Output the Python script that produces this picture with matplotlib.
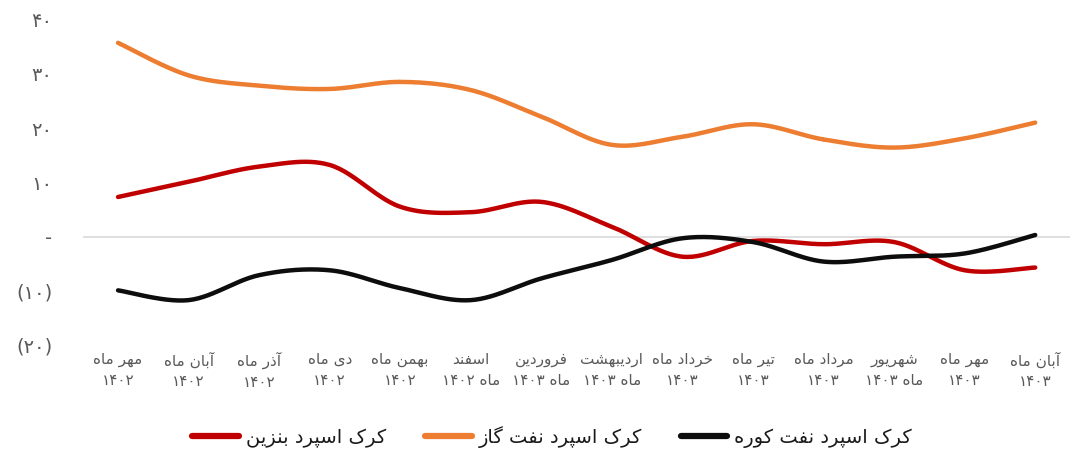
import numpy as np
import matplotlib
matplotlib.use("Agg")
import matplotlib.pyplot as plt

# data
months = ["مهر ماه\n۱۴۰۲", "آبان ماه\n۱۴۰۲", "آذر ماه\n۱۴۰۲", "دی ماه\n۱۴۰۲",
          "بهمن ماه\n۱۴۰۲", "اسفند\nماه ۱۴۰۲", "فروردین\nماه ۱۴۰۳", "اردیبهشت\nماه ۱۴۰۳",
          "خرداد ماه\n۱۴۰۳", "تیر ماه\n۱۴۰۳", "مرداد ماه\n۱۴۰۳", "شهریور\nماه ۱۴۰۳",
          "مهر ماه\n۱۴۰۳", "آبان ماه\n۱۴۰۳"]
gasoline = [7.3, 10.1, 12.9, 13.2, 5.5, 4.5, 6.4, 1.8, -3.7, -0.8, -1.4, -1.0, -6.2, -5.7]
gasoil = [35.7, 29.7, 27.8, 27.2, 28.5, 27.0, 22.1, 16.9, 18.4, 20.7, 17.9, 16.4, 18.1, 21.0]
fueloil = [-9.9, -11.7, -7.1, -6.2, -9.5, -11.7, -7.7, -4.3, -0.3, -1.0, -4.6, -3.7, -3.1, 0.3]
series_names = ["کرک اسپرد بنزین", "کرک اسپرد نفت گاز", "کرک اسپرد نفت کوره"]
yticks = [-20, -10, 0, 10, 20, 30, 40]
ytick_labels = ["(۲۰)", "(۱۰)", "-", "۱۰", "۲۰", "۳۰", "۴۰"]

# isolated, final, initial, medial presentation forms
FORMS = {
    "ا": ("\uFE8D", "\uFE8E", None, None),
    "آ": ("\uFE81", "\uFE82", None, None),
    "د": ("\uFEA9", "\uFEAA", None, None),
    "ذ": ("\uFEAB", "\uFEAC", None, None),
    "ر": ("\uFEAD", "\uFEAE", None, None),
    "ز": ("\uFEAF", "\uFEB0", None, None),
    "و": ("\uFEED", "\uFEEE", None, None),
    "ب": ("\uFE8F", "\uFE90", "\uFE91", "\uFE92"),
    "پ": ("\uFB56", "\uFB57", "\uFB58", "\uFB59"),
    "ت": ("\uFE95", "\uFE96", "\uFE97", "\uFE98"),
    "خ": ("\uFEA5", "\uFEA6", "\uFEA7", "\uFEA8"),
    "س": ("\uFEB1", "\uFEB2", "\uFEB3", "\uFEB4"),
    "ش": ("\uFEB5", "\uFEB6", "\uFEB7", "\uFEB8"),
    "ف": ("\uFED1", "\uFED2", "\uFED3", "\uFED4"),
    "ک": ("\uFB8E", "\uFB8F", "\uFB90", "\uFB91"),
    "گ": ("\uFB92", "\uFB93", "\uFB94", "\uFB95"),
    "م": ("\uFEE1", "\uFEE2", "\uFEE3", "\uFEE4"),
    "ن": ("\uFEE5", "\uFEE6", "\uFEE7", "\uFEE8"),
    "ه": ("\uFEE9", "\uFEEA", "\uFEEB", "\uFEEC"),
    "ی": ("\uFBFC", "\uFBFD", "\uFBFE", "\uFBFF"),
}


def shape_word(w):
    if not any(c in FORMS for c in w):
        return w
    out = []
    for i, ch in enumerate(w):
        if ch not in FORMS:
            out.append(ch)
            continue
        prev = w[i - 1] if i > 0 else None
        nxt = w[i + 1] if i < len(w) - 1 else None
        jp = prev in FORMS and FORMS[prev][2] is not None
        jn = nxt in FORMS and FORMS[ch][2] is not None
        iso, fin, ini, med = FORMS[ch]
        if jp and jn:
            out.append(med)
        elif jp:
            out.append(fin)
        elif jn:
            out.append(ini)
        else:
            out.append(iso)
    return "".join(reversed(out))


def rtl(text):
    lines = []
    for line in text.split("\n"):
        words = [shape_word(w) for w in line.split(" ")]
        lines.append(" ".join(reversed(words)))
    return "\n".join(lines)


def smooth(y, n=30):
    # catmull-rom curve through the points
    x = np.arange(len(y), dtype=float)
    y = np.asarray(y, dtype=float)
    px = np.concatenate([[x[0]], x, [x[-1]]])
    py = np.concatenate([[y[0]], y, [y[-1]]])
    t = np.linspace(0, 1, n)[:, None]
    xs, ys = [], []
    for i in range(len(y) - 1):
        for p, acc in ((px, xs), (py, ys)):
            p0, p1, p2, p3 = p[i], p[i + 1], p[i + 2], p[i + 3]
            c = 0.5 * (2 * p1 + (-p0 + p2) * t + (2 * p0 - 5 * p1 + 4 * p2 - p3) * t ** 2
                       + (-p0 + 3 * p1 - 3 * p2 + p3) * t ** 3)
            acc.append(c.ravel())
    return np.concatenate(xs), np.concatenate(ys)


plt.rcParams["font.family"] = ["DejaVu Sans"]

fig = plt.figure(figsize=(10.89, 4.53), dpi=100)
ax = fig.add_axes([0.076, 0.238, 0.907, 0.719])

ax.axhline(0, color="#d9d9d9", lw=1.2, zorder=1)
colors = ["#c00000", "#ed7d31", "#0d0d0d"]
for vals, c, name in zip([gasoline, gasoil, fueloil], colors, series_names):
    xs, ys = smooth(vals)
    ax.plot(xs, ys, color=c, lw=3.2, solid_capstyle="round", label=rtl(name), zorder=3)

ax.set_xlim(-0.5, 13.5)
ax.set_ylim(-20, 40)
ax.set_yticks(yticks, ytick_labels)
ax.set_xticks(range(len(months)), [rtl(m) for m in months])
ax.tick_params(axis="y", length=0, pad=22, labelsize=14, labelcolor="#595959")
ax.tick_params(axis="x", length=0, pad=5, labelsize=11, labelcolor="#595959")
for lbl in ax.get_xticklabels():
    lbl.set_linespacing(1.5)
for s in ax.spines.values():
    s.set_visible(False)

leg = fig.legend(loc="center", bbox_to_anchor=(0.507, 0.035), ncol=3, frameon=False,
                 fontsize=14, handlelength=2.4, columnspacing=2.0, handletextpad=0.35)
for line in leg.get_lines():
    line.set_linewidth(4.5)
for t in leg.get_texts():
    t.set_color("#1a1a1a")

fig.savefig("out.png", dpi=100)
